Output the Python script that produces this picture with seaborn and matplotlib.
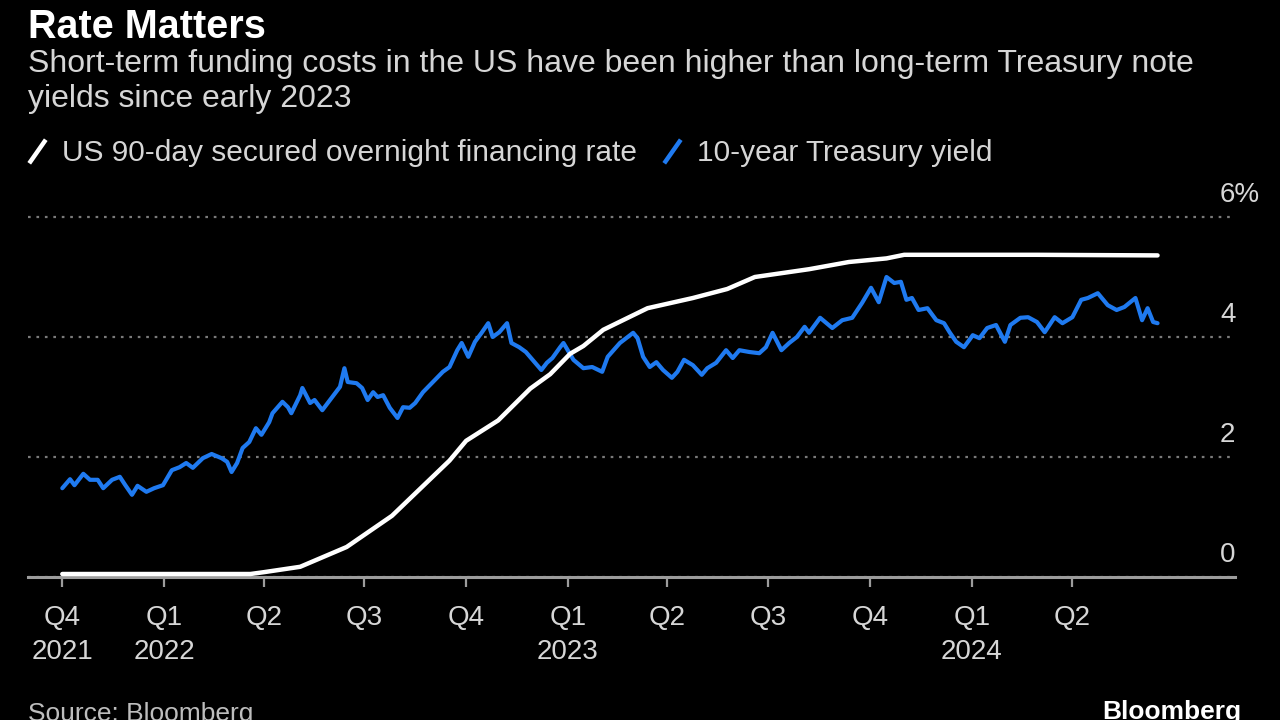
import matplotlib
matplotlib.use("Agg")
import matplotlib.pyplot as plt
import matplotlib.transforms as mtransforms
from matplotlib.lines import Line2D
from matplotlib.path import Path
import seaborn as sns
import pandas as pd

# ---------------- data ----------------
tsy_dates = [
    "2021-10-01", "2021-10-08", "2021-10-12", "2021-10-20", "2021-10-26", "2021-11-02", "2021-11-07",
    "2021-11-15", "2021-11-22", "2021-11-27", "2021-12-03", "2021-12-08", "2021-12-16", "2021-12-23",
    "2021-12-31",
    "2022-01-08", "2022-01-15", "2022-01-21", "2022-01-27", "2022-02-05", "2022-02-13", "2022-02-22",
    "2022-02-27", "2022-03-03", "2022-03-08", "2022-03-13", "2022-03-19", "2022-03-25", "2022-03-30",
    "2022-04-06", "2022-04-09", "2022-04-18", "2022-04-23", "2022-04-26", "2022-05-04", "2022-05-06",
    "2022-05-13", "2022-05-17", "2022-05-24", "2022-06-02", "2022-06-09", "2022-06-13", "2022-06-16",
    "2022-06-24", "2022-06-29", "2022-07-04", "2022-07-09", "2022-07-13", "2022-07-18", "2022-07-24",
    "2022-07-31", "2022-08-05", "2022-08-11", "2022-08-16", "2022-08-23", "2022-09-01", "2022-09-10",
    "2022-09-16", "2022-09-23", "2022-09-27", "2022-10-03", "2022-10-09", "2022-10-15", "2022-10-21",
    "2022-10-25", "2022-10-31", "2022-11-07", "2022-11-11", "2022-11-18", "2022-11-24", "2022-12-02",
    "2022-12-08", "2022-12-13", "2022-12-18", "2022-12-25", "2022-12-28",
    "2023-01-06", "2023-01-15", "2023-01-23", "2023-02-01", "2023-02-06", "2023-02-17", "2023-03-01",
    "2023-03-05", "2023-03-10", "2023-03-16", "2023-03-22", "2023-03-28", "2023-04-05", "2023-04-10",
    "2023-04-16", "2023-04-24", "2023-05-02", "2023-05-07", "2023-05-15", "2023-05-24", "2023-05-30",
    "2023-06-05", "2023-06-14", "2023-06-23", "2023-06-29", "2023-07-05", "2023-07-13", "2023-07-20",
    "2023-07-27", "2023-08-03", "2023-08-07", "2023-08-17", "2023-08-28", "2023-09-06", "2023-09-15",
    "2023-09-24", "2023-10-02", "2023-10-09", "2023-10-16", "2023-10-23", "2023-10-29", "2023-11-03",
    "2023-11-08", "2023-11-14", "2023-11-22", "2023-11-30", "2023-12-07", "2023-12-12", "2023-12-18",
    "2023-12-25",
    "2024-01-02", "2024-01-08", "2024-01-15", "2024-01-23", "2024-01-31", "2024-02-05", "2024-02-14",
    "2024-02-21", "2024-02-29", "2024-03-07", "2024-03-16", "2024-03-23", "2024-04-01", "2024-04-09",
    "2024-04-15", "2024-04-24", "2024-05-03", "2024-05-11", "2024-05-18", "2024-05-28", "2024-06-03",
    "2024-06-08", "2024-06-13", "2024-06-17",
]
tsy_values = [
    1.48, 1.63, 1.53, 1.72, 1.62, 1.62, 1.48, 1.62, 1.67, 1.53, 1.37, 1.52, 1.42, 1.48, 1.53,
    1.78, 1.83, 1.90, 1.82, 1.98, 2.05, 1.98, 1.92, 1.75, 1.90, 2.15, 2.25, 2.48, 2.37, 2.58,
    2.73, 2.92, 2.83, 2.73, 3.03, 3.15, 2.90, 2.95, 2.78, 3.00, 3.17, 3.48, 3.25, 3.23, 3.15,
    2.95, 3.08, 3.00, 3.03, 2.82, 2.65, 2.83, 2.82, 2.90, 3.08, 3.25, 3.42, 3.50, 3.78, 3.90,
    3.67, 3.92, 4.07, 4.23, 4.00, 4.08, 4.23, 3.90, 3.83, 3.75, 3.58, 3.45, 3.57, 3.65, 3.83, 3.90,
    3.62, 3.48, 3.50, 3.42, 3.67, 3.90, 4.07, 3.98, 3.67, 3.50, 3.58, 3.45, 3.32, 3.42, 3.62,
    3.53, 3.37, 3.48, 3.57, 3.78, 3.65, 3.78, 3.75, 3.73, 3.83, 4.07, 3.78, 3.90, 4.00, 4.17,
    4.07, 4.32, 4.15, 4.28, 4.32, 4.57, 4.82, 4.58, 5.00, 4.90, 4.92, 4.62, 4.65, 4.45, 4.48,
    4.28, 4.23, 4.08, 3.92, 3.83,
    4.03, 3.98, 4.15, 4.20, 3.92, 4.20, 4.32, 4.33, 4.25, 4.08, 4.33, 4.23, 4.33, 4.62, 4.65,
    4.73, 4.53, 4.45, 4.50, 4.65, 4.28, 4.48, 4.25, 4.23,
]

sofr_dates = [
    "2021-10-01", "2022-03-20", "2022-04-01", "2022-05-04", "2022-06-15", "2022-07-26",
    "2022-09-16", "2022-10-01", "2022-10-30", "2022-11-28", "2022-12-16", "2023-01-03",
    "2023-01-15", "2023-02-02", "2023-03-14", "2023-04-24", "2023-05-25", "2023-06-19",
    "2023-08-07", "2023-09-12", "2023-10-16", "2023-11-01", "2024-02-29", "2024-06-17",
]
sofr_values = [
    0.05, 0.05, 0.08, 0.17, 0.50, 1.02,
    1.94, 2.27, 2.61, 3.14, 3.38, 3.72,
    3.85, 4.12, 4.48, 4.65, 4.80, 5.00,
    5.13, 5.25, 5.31, 5.37, 5.37, 5.36,
]

series_names = ["US 90-day secured overnight financing rate", "10-year Treasury yield"]

xtick_dates = ["2021-10-01", "2022-01-01", "2022-04-01", "2022-07-01", "2022-10-01", "2023-01-01",
               "2023-04-01", "2023-07-01", "2023-10-01", "2024-01-01", "2024-04-01"]
xtick_labels = ["Q4\n2021", "Q1\n2022", "Q2", "Q3", "Q4", "Q1\n2023", "Q2", "Q3", "Q4", "Q1\n2024", "Q2"]
ytick_values = [0, 2, 4, 6]
ytick_labels = ["0", "2", "4", "6%"]

title = "Rate Matters"
subtitle = ("Short-term funding costs in the US have been higher than long-term Treasury note\n"
            "yields since early 2023")
source = "Source: Bloomberg"
brand = "Bloomberg"

# ---------------- style ----------------
BLUE = "#1f7af0"
WHITE = "#ffffff"
GRID = "#7a7a7a"
AXIS = "#9c9c9c"
TXT = "#d6d6d6"

sns.set_theme(style="dark")
plt.rcParams["font.family"] = ["Liberation Sans", "DejaVu Sans"]
plt.rcParams["figure.facecolor"] = "black"
plt.rcParams["axes.facecolor"] = "black"

W, H = 1280, 720
fig = plt.figure(figsize=(12.8, 7.2), dpi=100, facecolor="black")
ax_left, ax_right, ax_bottom_px, ax_top_px = 28, 1235, 577, 199
ax = fig.add_axes([ax_left / W, (H - ax_bottom_px) / H,
                   (ax_right - ax_left) / W, (ax_bottom_px - ax_top_px) / H])
ax.set_facecolor("black")

df_tsy = pd.DataFrame({"date": pd.to_datetime(tsy_dates), "value": tsy_values})
df_sofr = pd.DataFrame({"date": pd.to_datetime(sofr_dates), "value": sofr_values})

sns.lineplot(data=df_tsy, x="date", y="value", ax=ax, color=BLUE, lw=3.0,
             estimator=None, solid_joinstyle="round", zorder=3)
sns.lineplot(data=df_sofr, x="date", y="value", ax=ax, color=WHITE, lw=3.2,
             estimator=None, solid_capstyle="round", zorder=4)

ax.set_xlim(pd.Timestamp("2021-08-31"), pd.Timestamp("2024-08-26"))
ax.set_ylim(0, 6.3)
ax.set_xlabel("")
ax.set_ylabel("")

for s in ["top", "left", "right"]:
    ax.spines[s].set_visible(False)
ax.spines["bottom"].set_color(AXIS)
ax.spines["bottom"].set_linewidth(2.2)
ax.spines["bottom"].set_zorder(2.6)

ax.set_yticks(ytick_values)
ax.tick_params(axis="y", length=0, labelleft=False, labelright=False)
ax.yaxis.grid(True, color=GRID, linestyle=(0, (1.2, 2.6)), linewidth=1.6)
ax.xaxis.grid(False)
ax.set_axisbelow(True)

ax.set_xticks(pd.to_datetime(xtick_dates))
ax.set_xticklabels(xtick_labels)
ax.tick_params(axis="x", length=7.5, width=1.6, color=AXIS, labelsize=20,
               labelcolor=TXT, pad=13, direction="out", bottom=True)
for lbl in ax.get_xticklabels():
    lbl.set_linespacing(1.4)

ytrans = mtransforms.offset_copy(ax.get_yaxis_transform(), fig=fig, x=0, y=15, units="dots")
xfrac = (1220 - ax_left) / (ax_right - ax_left)
for v, s in zip(ytick_values, ytick_labels):
    ax.text(xfrac, v, s, transform=ytrans, ha="left", va="baseline", fontsize=20, color=TXT)

# titles
fig.text(28 / W, 1 - 8 / H, title, fontsize=28.5, fontweight="bold", color="white", va="top", ha="left")
fig.text(28 / W, 1 - 49 / H, subtitle, fontsize=23, color=TXT, va="top", ha="left", linespacing=1.2)

# legend with slanted-line markers
slash = Path([(-0.35, -0.5), (0.35, 0.5)], [Path.MOVETO, Path.LINETO])
handles = [
    Line2D([], [], linestyle="none", marker=slash, markersize=17, markeredgewidth=3.2,
           markeredgecolor=WHITE, markerfacecolor=WHITE),
    Line2D([], [], linestyle="none", marker=slash, markersize=17, markeredgewidth=3.2,
           markeredgecolor=BLUE, markerfacecolor=BLUE),
]
fig.legend(handles, series_names, loc="center left", bbox_to_anchor=(22 / W, 1 - 153 / H),
           ncol=2, frameon=False, fontsize=21.5, labelcolor=TXT, handlelength=1.0,
           handletextpad=0.35, columnspacing=0.65, borderaxespad=0, borderpad=0)

# footer
fig.text(28 / W, 1 - 702 / H, source, fontsize=19, color="#bdbdbd", va="top", ha="left")
fig.text(1241 / W, 1 - 700 / H, brand, fontsize=19, fontweight="bold", color="white", va="top", ha="right")

fig.savefig("out.png", dpi=100, facecolor="black")
